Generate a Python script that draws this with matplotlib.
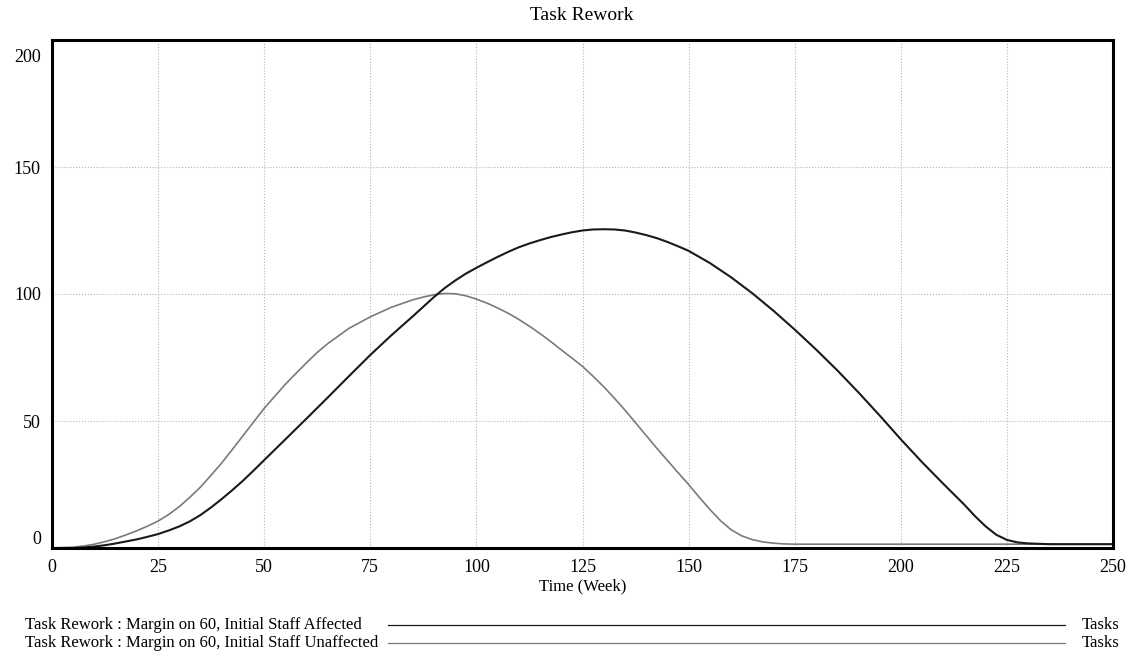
import matplotlib.pyplot as plt
from matplotlib.transforms import ScaledTranslation

plt.rcParams['font.family'] = ['Liberation Serif', 'DejaVu Serif']

# Task Rework, Margin on 60, Initial Staff Affected
weeks_affected = [0, 5, 7.5, 10, 12.5, 15, 17.5, 20, 22.5, 25, 27.5, 30,
                  32.5, 35, 37.5, 40, 42.5, 45, 47.5, 50, 55, 60, 65, 70, 75,
                  80, 85, 87.5, 90, 92.5, 95, 97.5, 100, 102.5, 105, 107.5,
                  110, 112.5, 115, 117.5, 120, 122.5, 125, 127.5, 130, 132.5,
                  135, 137.5, 140, 142.5, 145, 147.5, 150, 155, 160, 165, 170,
                  175, 180, 185, 190, 195, 200, 205, 210, 215, 217.5, 220,
                  222.5, 225, 227.5, 230, 235, 250]
rework_affected = [0, 0, 0.2, 0.6, 1.1, 1.8, 2.6, 3.4, 4.4, 5.5, 6.9, 8.5,
                   10.5, 13, 16, 19.3, 22.8, 26.5, 30.5, 34.6, 42.8, 51, 59.3,
                   67.7, 76, 83.8, 91.2, 95, 98.8, 102.3, 105.3, 108, 110.3,
                   112.5, 114.6, 116.6, 118.4, 119.9, 121.2, 122.4, 123.4,
                   124.3, 125, 125.4, 125.5, 125.4, 125, 124.2, 123.2, 122,
                   120.5, 118.8, 117, 112.2, 106.6, 100.3, 93.4, 86, 78.2, 70,
                   61.3, 52.2, 42.8, 33.8, 25.3, 17, 12.5, 8.5, 5.2, 3.2, 2.2,
                   1.8, 1.5, 1.5]

# Task Rework, Margin on 60, Initial Staff Unaffected
weeks_unaffected = [0, 5, 7.5, 10, 12.5, 15, 17.5, 20, 22.5, 25, 27.5, 30,
                    32.5, 35, 37.5, 40, 42.5, 45, 47.5, 50, 55, 60, 62.5, 65,
                    70, 75, 80, 85, 87.5, 90, 92.5, 95, 97.5, 100, 102.5, 105,
                    107.5, 110, 112.5, 115, 117.5, 120, 122.5, 125, 127.5,
                    130, 132.5, 135, 137.5, 140, 142.5, 145, 147.5, 150, 152.5,
                    155, 157.5, 160, 162.5, 165, 167.5, 170, 172.5, 175, 250]
rework_unaffected = [0, 0.3, 0.8, 1.5, 2.5, 3.7, 5.2, 6.8, 8.6, 10.6, 13.2,
                     16.3, 20, 24, 28.7, 33.5, 38.8, 44.2, 49.6, 55, 64.5, 73,
                     77, 80.5, 86.5, 91, 94.8, 97.7, 98.8, 99.7, 100.2, 100.1,
                     99.3, 98, 96.4, 94.5, 92.4, 90, 87.3, 84.4, 81.3, 78,
                     74.8, 71.5, 67.6, 63.5, 59, 54.3, 49.3, 44.3, 39.3, 34.5,
                     29.7, 25, 20, 15.2, 10.8, 7.2, 4.8, 3.3, 2.4, 1.9, 1.6,
                     1.5, 1.5]

x_ticks = [0, 25, 50, 75, 100, 125, 150, 175, 200, 225, 250]
y_ticks = [0, 50, 100, 150, 200]

fig = plt.figure(figsize=(11.33, 6.61), dpi=100)
W, H = 1133, 661
ax = fig.add_axes([52 / W, 1 - 548 / H, (1113 - 52) / W, (548 - 40) / H])

ax.plot(weeks_unaffected, rework_unaffected, color='#7a7a7a', linewidth=1.2)
ax.plot(weeks_affected, rework_affected, color='#1a1a1a', linewidth=1.5)

ax.set_xlim(0, 250)
ax.set_ylim(0, 200)
ax.set_xticks(x_ticks)
ax.set_yticks(y_ticks)
ax.grid(True, linestyle=':', color='#b5b5b5', linewidth=0.8)
ax.tick_params(length=0, labelsize=13, pad=8)
for spine in ax.spines.values():
    spine.set_linewidth(2.2)
    spine.set_color('black')

# keep the end labels of the value axis inside the frame
ylabels = ax.get_yticklabels()
ylabels[0].set_va('bottom')
ylabels[-1].set_transform(ylabels[-1].get_transform()
                          + ScaledTranslation(0, -15 / 100, fig.dpi_scale_trans))

ax.set_xlabel('Time (Week)', fontsize=12, labelpad=2)
fig.text(582 / W, 1 - 16 / H, 'Task Rework', ha='center', va='center',
         fontsize=14)

# legend rows under the plot
legend_rows = [
    ('Task Rework : Margin on 60, Initial Staff Affected', '#1a1a1a', 625),
    ('Task Rework : Margin on 60, Initial Staff Unaffected', '#7a7a7a', 643),
]
for label, color, ypix in legend_rows:
    yf = 1 - ypix / H
    fig.text(25 / W, yf, label, ha='left', va='center', fontsize=12)
    fig.add_artist(plt.Line2D([388 / W, 1065 / W], [yf, yf], color=color,
                              linewidth=0.9, transform=fig.transFigure))
    fig.text(1120 / W, yf, 'Tasks', ha='right', va='center', fontsize=12)

fig.savefig('out.png', dpi=100)
